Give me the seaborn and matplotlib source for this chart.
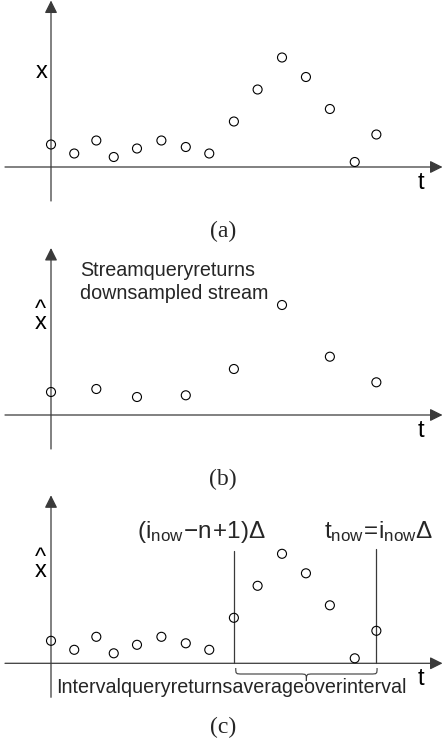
import numpy as np
import pandas as pd
import matplotlib
matplotlib.use("Agg")
import matplotlib.pyplot as plt
import seaborn as sns
from matplotlib.path import Path
from matplotlib.patches import PathPatch

sns.set_theme(style="white")
plt.rcParams['font.family'] = ['Liberation Sans', 'DejaVu Sans']
plt.rcParams['mathtext.fontset'] = 'custom'
plt.rcParams['mathtext.rm'] = 'Liberation Sans'
plt.rcParams['mathtext.it'] = 'Liberation Sans'
plt.rcParams['mathtext.sf'] = 'Liberation Sans'

# ---- data ----
t_idx = [0.0, 1.0, 1.95, 2.70, 3.70, 4.75, 5.80, 6.81, 7.87, 8.89, 9.94, 10.97, 12.0, 13.07, 14.0]
x_vals = [2.25, 1.35, 2.65, 1.0, 1.85, 2.65, 2.0, 1.35, 4.55, 7.75, 10.95, 9.0, 5.8, 0.5, 3.25]
t_down = [0.0, 1.95, 3.70, 5.80, 7.87, 9.94, 12.0, 14.0]
x_down = [2.3, 2.6, 1.8, 1.97, 4.6, 11.0, 5.83, 3.27]
interval_start = 7.87
interval_end = 14.0
panel_labels = ["(a)", "(b)", "(c)"]
stream_text = ["Streamqueryreturns", "downsampled stream"]
interval_text = "Intervalqueryreturnsaverageoverinterval"
start_label = r"$(\mathregular{i_{now}}\!-\!\mathregular{n}\!+\!\mathregular{1)\Delta}$"
end_label = r"$\mathregular{t_{now}\!=\!i_{now}\Delta}$"

df_full = pd.DataFrame({"t": t_idx, "x": x_vals})
df_down = pd.DataFrame({"t": t_down, "x": x_down})

W, H = 443, 744
fig = plt.figure(figsize=(W / 100, H / 100), dpi=100)

PX_T = 23.24   # px per t unit
PX_X = 10.0    # px per x unit
Y0 = 51        # px of y-axis

bands = [(0, 245, 167), (245, 490, 415), (490, 744, 663.3)]
axcol = '#3a3a3a'

axes = []
for (top, bot, axis_px) in bands:
    ax = fig.add_axes([0, 1 - bot / H, 1, (bot - top) / H])
    ax.set_xlim(-Y0 / PX_T, (W - Y0) / PX_T)
    ax.set_ylim((axis_px - bot) / PX_X, (axis_px - top) / PX_X)
    ax.axis('off')
    axes.append(ax)


def draw_axes(ax, label_hat, ytip):
    xl = ax.get_xlim()
    ax.annotate('', xy=(xl[1] - 0.02, 0), xytext=(-1.98, 0),
                arrowprops=dict(arrowstyle='-|>,head_length=0.42,head_width=0.21',
                                mutation_scale=18, lw=0.9, color=axcol,
                                shrinkA=0, shrinkB=0))
    ax.annotate('', xy=(0, ytip), xytext=(0, -3.4),
                arrowprops=dict(arrowstyle='-|>,head_length=0.42,head_width=0.21',
                                mutation_scale=18, lw=0.9, color=axcol,
                                shrinkA=0, shrinkB=0))
    ax.text(15.92, -2.2, 't', fontsize=17, ha='center', va='baseline', color='black')
    if label_hat:
        ax.text(-0.45, 8.6, '^\nx', fontsize=17, ha='center', va='baseline',
                linespacing=0.5, color='black', multialignment='center')
    else:
        ax.text(-0.42, 8.9, 'x', fontsize=17, ha='center', va='baseline', color='black')


scatter_kw = dict(marker='o', s=42, facecolor='none', edgecolor='black', linewidth=0.8,
                  legend=False, zorder=5)

# (a)
ax = axes[0]
draw_axes(ax, False, 16.65)
sns.scatterplot(data=df_full, x='t', y='x', ax=ax, **scatter_kw)

# (b)
ax = axes[1]
draw_axes(ax, True, 16.7)
sns.scatterplot(data=df_down, x='t', y='x', ax=ax, **scatter_kw)
ax.text(1.25, 13.9, stream_text[0], fontsize=14.2, ha='left', va='baseline')
ax.text(1.25, 11.6, stream_text[1], fontsize=14.2, ha='left', va='baseline')

# (c)
ax = axes[2]
draw_axes(ax, True, 16.8)
sns.scatterplot(data=df_full, x='t', y='x', ax=ax, **scatter_kw)
ax.plot([interval_start, interval_start], [0, 11.26], color=axcol, lw=0.9)
ax.plot([interval_end, interval_end], [0, 11.43], color=axcol, lw=0.9)
ax.text(3.7, 12.5, start_label, fontsize=17.5, ha='left', va='baseline')
ax.text(11.75, 12.5, end_label, fontsize=17.5, ha='left', va='baseline')

# curly brace under the interval
x0 = interval_start + 0.08
x1 = interval_end + 0.03
xm = 0.5 * (x0 + x1)
yt, yb, ytip = -0.47, -1.07, -1.77
r = 0.28
verts = [(x0, yt), (x0, yb), (x0, yb), (x0 + r, yb),
         (xm - r, yb),
         (xm, yb), (xm, yb), (xm, ytip),
         (xm, yb), (xm, yb), (xm + r, yb),
         (x1 - r, yb),
         (x1, yb), (x1, yb), (x1, yt)]
codes = [Path.MOVETO, Path.CURVE4, Path.CURVE4, Path.CURVE4,
         Path.LINETO,
         Path.CURVE4, Path.CURVE4, Path.CURVE4,
         Path.CURVE4, Path.CURVE4, Path.CURVE4,
         Path.LINETO,
         Path.CURVE4, Path.CURVE4, Path.CURVE4]
ax.add_patch(PathPatch(Path(verts, codes), fill=False, lw=0.8, edgecolor=axcol))
ax.text(0.215, -3.0, interval_text, fontsize=14.2, ha='left', va='baseline')

# panel labels
for ax, lab in zip(axes, panel_labels):
    ax.text(7.4, -7.0, lab, fontsize=17, ha='center', va='baseline',
            family=['Liberation Serif', 'DejaVu Serif'])

fig.savefig('out.png', dpi=100)
